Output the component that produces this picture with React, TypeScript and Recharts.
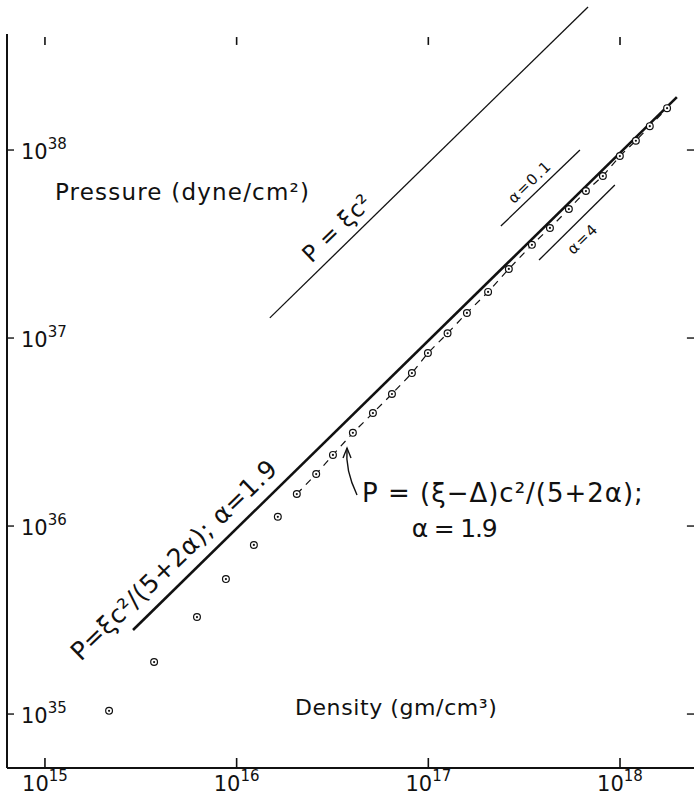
import React from "react";
import {
  ComposedChart,
  Line,
  Scatter,
  XAxis,
  YAxis,
  ReferenceLine,
  ReferenceDot,
} from "recharts";

// density (gm/cm^3) and pressure (dyne/cm^2)
const rhoTicks = [1e15, 1e16, 1e17, 1e18];
const pTicks = [1e35, 1e36, 1e37, 1e38];

// open circles below the dashed curve
const rhoLow = [2.16e15, 3.71e15, 6.21e15, 8.79e15, 1.23e16, 1.64e16];
const pLow = [1.04e35, 1.89e35, 3.28e35, 5.22e35, 7.93e35, 1.12e36];

// circles joined by the dashed curve
const rhoHigh = [
  2.06e16, 2.6e16, 3.18e16, 4.04e16, 5.14e16, 6.46e16, 8.21e16, 9.95e16, 1.26e17, 1.59e17, 2.05e17,
  2.63e17, 3.47e17, 4.31e17, 5.41e17, 6.64e17, 8.14e17, 9.98e17, 1.21e18, 1.43e18, 1.76e18,
];
const pHigh = [
  1.48e36, 1.89e36, 2.39e36, 3.13e36, 3.99e36, 5.04e36, 6.51e36, 8.32e36, 1.06e37, 1.36e37, 1.76e37,
  2.33e37, 3.13e37, 3.85e37, 4.85e37, 6.05e37, 7.27e37, 9.29e37, 1.12e38, 1.34e38, 1.67e38,
];

// straight lines
const xiRho = [1.49e16, 6.81e17];
const xiP = [1.28e37, 5.77e38];
const fitRho = [2.88e15, 1.98e18];
const fitP = [2.8e35, 1.91e38];
const a01Rho = [2.39e17, 6.18e17];
const a01P = [3.94e37, 1.0e38];
const a4Rho = [3.78e17, 9.4e17];
const a4P = [2.6e37, 6.52e37];

const lg = (v: number) => Math.pow(10, v);
const xDomain = [lg(14.802), lg(18.386)];
const yDomain = [lg(34.713), lg(38.798)];

const toPts = (xs: number[], ys: number[]) => xs.map((rho, i) => ({ rho, p: ys[i] }));

const INK = "#111";
const FONT = "'DejaVu Sans', sans-serif";

type Note = {
  text: string;
  rho: number;
  p: number;
  angle: number;
  size: number;
  anchor: string;
  spacing: number;
};
const notes: Note[] = [
  { text: "Pressure (dyne/cm²)", rho: lg(15.052), p: lg(37.734), angle: 0, size: 23, anchor: "start", spacing: 1.2 },
  { text: "Density (gm/cm³)", rho: lg(16.304), p: lg(34.995), angle: 0, size: 22, anchor: "start", spacing: 0.6 },
  { text: "P = ξc²", rho: lg(16.523), p: lg(37.585), angle: -44, size: 23, anchor: "middle", spacing: 0.5 },
  { text: "P=ξc²/(5+2α); α=1.9", rho: lg(15.673), p: lg(35.819), angle: -44, size: 25, anchor: "middle", spacing: 0.6 },
  { text: "P = (ξ−Δ)c²/(5+2α);", rho: lg(16.654), p: lg(36.128), angle: 0, size: 26, anchor: "start", spacing: 1 },
  { text: "α = 1.9", rho: lg(17.134), p: lg(35.941), angle: 0, size: 25, anchor: "middle", spacing: -1.2 },
  { text: "α=0.1", rho: lg(17.53), p: lg(37.83), angle: -44, size: 15, anchor: "middle", spacing: 1.5 },
  { text: "α=4", rho: lg(17.806), p: lg(37.527), angle: -44, size: 15, anchor: "middle", spacing: 1.5 },
];

const XTick = (props: any) => {
  const { x, y, payload } = props;
  const e = Math.round(Math.log10(payload.value));
  return (
    <g>
      <line x1={x} x2={x} y1={y} y2={y - 10} stroke={INK} strokeWidth={1.6} />
      <text x={x} y={y + 23} textAnchor="middle" fontFamily={FONT} fontSize={21} fill={INK}>
        10
        <tspan dy={-10} fontSize={15}>
          {e}
        </tspan>
      </text>
    </g>
  );
};

const YTick = (props: any) => {
  const { x, y, payload } = props;
  const e = Math.round(Math.log10(payload.value));
  return (
    <g>
      <line x1={x} x2={x + 7} y1={y} y2={y} stroke={INK} strokeWidth={1.4} />
      <text x={x + 14} y={y + 9} textAnchor="start" fontFamily={FONT} fontSize={21} fill={INK}>
        10
        <tspan dy={-10} fontSize={15}>
          {e}
        </tspan>
      </text>
    </g>
  );
};

const Ring = (props: any) => {
  const { cx, cy } = props;
  return (
    <g>
      <circle cx={cx} cy={cy} r={3.4} fill="#fff" stroke={INK} strokeWidth={1.2} />
      <circle cx={cx} cy={cy} r={1.1} fill={INK} />
    </g>
  );
};

const noteShape = (n: Note) => (props: any) => {
  const { cx, cy } = props;
  return (
    <text
      x={cx}
      y={cy}
      textAnchor={n.anchor}
      dominantBaseline={n.angle ? "central" : "alphabetic"}
      transform={n.angle ? `rotate(${n.angle} ${cx} ${cy})` : undefined}
      fontFamily={FONT}
      fontSize={n.size}
      letterSpacing={n.spacing}
      fill={INK}
    >
      {n.text}
    </text>
  );
};

const arrowShape = (props: any) => {
  const { cx, cy } = props;
  return (
    <g fill="none" stroke={INK} strokeWidth={1.4}>
      <path d={`M${cx},${cy} Q${cx - 12},${cy - 25} ${cx - 10},${cy - 47}`} />
      <path d={`M${cx - 14},${cy - 37} L${cx - 10},${cy - 47} L${cx - 6},${cy - 37}`} />
    </g>
  );
};

export default function App() {
  return (
    <div style={{ position: "absolute", left: 0, top: 0, background: "#fff" }}>
      <ComposedChart width={694} height={798} margin={{ top: 0, right: 0, bottom: 0, left: 7 }}>
        <XAxis
          dataKey="rho"
          type="number"
          scale="log"
          domain={xDomain}
          allowDataOverflow
          ticks={rhoTicks}
          interval={0}
          tick={<XTick />}
          tickLine={false}
          tickSize={0}
          tickMargin={0}
          height={30}
          axisLine={{ stroke: INK, strokeWidth: 2 }}
        />
        <YAxis
          dataKey="p"
          type="number"
          scale="log"
          domain={yDomain}
          allowDataOverflow
          ticks={pTicks}
          interval={0}
          mirror
          tick={<YTick />}
          tickLine={false}
          tickSize={0}
          tickMargin={0}
          axisLine={false}
        />

        {/* left axis, top ticks, right ticks */}
        <ReferenceLine
          segment={[
            { x: xDomain[0], y: lg(38.617) },
            { x: xDomain[0], y: yDomain[0] },
          ]}
          stroke={INK}
          strokeWidth={2}
        />
        {rhoTicks.map((t) => (
          <ReferenceLine
            key={"tt" + t}
            segment={[
              { x: t, y: lg(38.601) },
              { x: t, y: lg(38.559) },
            ]}
            stroke={INK}
            strokeWidth={1.6}
          />
        ))}
        {pTicks.map((t) => (
          <ReferenceLine
            key={"rt" + t}
            segment={[
              { x: lg(18.349), y: t },
              { x: xDomain[1], y: t },
            ]}
            stroke={INK}
            strokeWidth={1.4}
          />
        ))}

        <Line data={toPts(xiRho, xiP)} dataKey="p" stroke={INK} strokeWidth={1.3} dot={false} isAnimationActive={false} />
        <Line data={toPts(fitRho, fitP)} dataKey="p" stroke={INK} strokeWidth={2.6} dot={false} isAnimationActive={false} />
        <Line data={toPts(a01Rho, a01P)} dataKey="p" stroke={INK} strokeWidth={1.3} dot={false} isAnimationActive={false} />
        <Line data={toPts(a4Rho, a4P)} dataKey="p" stroke={INK} strokeWidth={1.3} dot={false} isAnimationActive={false} />
        <Line
          data={toPts(rhoHigh, pHigh)}
          dataKey="p"
          stroke={INK}
          strokeWidth={1.2}
          strokeDasharray="7 6"
          dot={false}
          isAnimationActive={false}
        />
        <Scatter data={toPts(rhoLow, pLow)} dataKey="p" shape={<Ring />} isAnimationActive={false} />
        <Scatter data={toPts(rhoHigh, pHigh)} dataKey="p" shape={<Ring />} isAnimationActive={false} />

        {notes.map((n) => (
          <ReferenceDot key={n.text} x={n.rho} y={n.p} r={1} shape={noteShape(n)} />
        ))}
        <ReferenceDot x={lg(16.628)} y={lg(36.165)} r={1} shape={arrowShape} />
      </ComposedChart>
    </div>
  );
}
